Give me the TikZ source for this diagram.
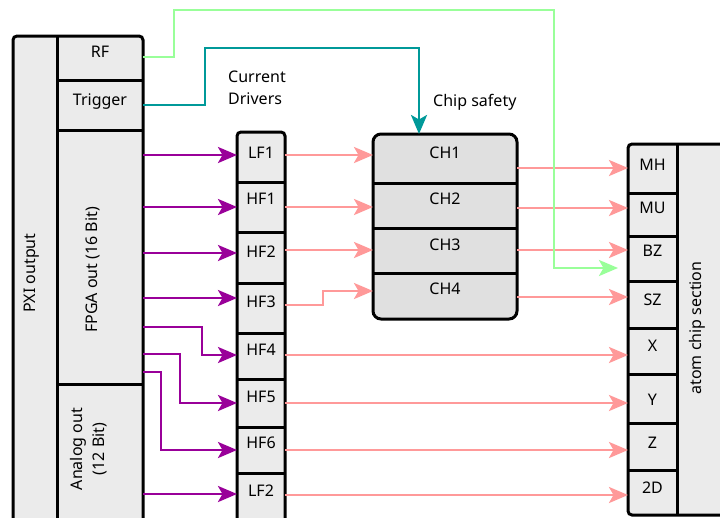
\documentclass[tikz,border=0pt]{standalone}
\usepackage{fontspec}
\setmainfont{Noto Sans}
\usetikzlibrary{arrows.meta,backgrounds}
\definecolor{cfill}{HTML}{EBEBEB}
\definecolor{csafe}{HTML}{E0E0E0}
\definecolor{cpurple}{HTML}{990099}
\definecolor{cpink}{HTML}{FF9999}
\definecolor{cgreen}{HTML}{99FF99}
\definecolor{cteal}{HTML}{009999}
\newcommand\dfont{\fontsize{16}{22}\selectfont}
% name, x1, y1, x2, y2, label y, text
\newcommand\mkcell[7]{%
  \node[cell, minimum width={(#4-#2)*1pt}, minimum height={(#5-#3)*1pt}, anchor=north west,
    label={[celllbl, yshift={((#3+#5)/2-#6)*1pt}]center:#7}] (#1) at (#2,#3) {};}
\newcommand\mkbox[5]{%
  \node[cell, minimum width={(#4-#2)*1pt}, minimum height={(#5-#3)*1pt}, anchor=north west] (#1) at (#2,#3) {};}
\begin{document}
\begin{tikzpicture}[x=1pt,y=-1pt,
  cell/.style={draw=none, inner sep=0pt, outer sep=0pt},
  celllbl/.style={font=\dfont, inner sep=0pt, text height=11.5pt, text depth=0pt},
  rlbl/.style={font=\dfont, rotate=90, inner sep=0pt},
  frame/.style={draw=black, line width=3pt, rounded corners=4pt},
  divider/.style={draw=black, line width=3pt},
  conn/.style={line width=2.8pt, -{Stealth[length=19pt,width=16pt,inset=4.5pt]}},
  pconn/.style={conn, draw=cpurple},
  rconn/.style={conn, draw=cpink},
]
\useasboundingbox (0,0) rectangle (720,517);
\clip (0,0) rectangle (720,517);

% PXI output
\mkbox{pxi}{13}{36}{57}{540}
\mkcell{rf}{57}{36}{143}{80}{52}{RF}
\mkcell{trig}{57}{80}{143}{130}{100}{Trigger}
\mkbox{fpga}{57}{130}{143}{384}
\mkbox{analog}{57}{384}{143}{540}

% Current drivers
\mkcell{lf1}{237}{132}{285}{182}{153}{LF1}
\mkcell{hf1}{237}{182}{285}{232}{199}{HF1}
\mkcell{hf2}{237}{232}{285}{283}{252}{HF2}
\mkcell{hf3}{237}{283}{285}{333}{302}{HF3}
\mkcell{hf4}{237}{333}{285}{379}{350}{HF4}
\mkcell{hf5}{237}{379}{285}{427}{397}{HF5}
\mkcell{hf6}{237}{427}{285}{473}{443}{HF6}
\mkcell{lf2}{237}{473}{285}{540}{491}{LF2}

% Chip safety
\mkcell{ch1}{373}{134}{517}{183}{153}{CH1}
\mkcell{ch2}{373}{183}{517}{228}{199}{CH2}
\mkcell{ch3}{373}{228}{517}{273}{245}{CH3}
\mkcell{ch4}{373}{273}{517}{319}{289}{CH4}

% Atom chip section
\mkcell{mh}{628}{144}{677}{193}{165}{MH}
\mkcell{mu}{628}{193}{677}{236}{208}{MU}
\mkcell{bz}{628}{236}{677}{281}{251}{BZ}
\mkcell{sz}{628}{281}{677}{328}{300}{SZ}
\mkcell{acx}{628}{328}{677}{374}{346}{X}
\mkcell{acy}{628}{374}{677}{423}{400}{Y}
\mkcell{acz}{628}{423}{677}{470}{443}{Z}
\mkcell{acd}{628}{470}{677}{515}{488}{2D}
\mkbox{atomcol}{677}{144}{730}{515}

% frames with fill
\begin{scope}[on background layer]
  \draw[frame, fill=cfill] (pxi.north west) rectangle (analog.south east);
  \draw[frame, fill=cfill] (lf1.north west) rectangle (lf2.south east);
  \draw[frame, fill=csafe, rounded corners=8pt] (ch1.north west) rectangle (ch4.south east);
  \draw[frame, fill=cfill] (mh.north west) rectangle (atomcol.south east);
\end{scope}

% dividers
\draw[divider] (pxi.north east) -- (pxi.south east);
\foreach \n in {rf,trig,fpga} \draw[divider] (\n.south west) -- (\n.south east);
\foreach \n in {lf1,hf1,hf2,hf3,hf4,hf5,hf6} \draw[divider] (\n.south west) -- (\n.south east);
\foreach \n in {ch1,ch2,ch3} \draw[divider] (\n.south west) -- (\n.south east);
\draw[divider] (mh.north east) -- (acd.south east);
\foreach \n in {mh,mu,bz,sz,acx,acy,acz} \draw[divider] (\n.south west) -- (\n.south east);

% rotated labels
\node[rlbl] (pxilbl) at (32,273) {PXI output};
\node[rlbl] (fpgalbl) at (93,270) {FPGA out (16 Bit)};
\node[rlbl, align=center] (anlbl) at (89,449) {Analog out\\(12 Bit)};
\node[rlbl] (atomlbl) at (697,328) {atom chip section};

% free labels
\node[font=\dfont, anchor=west, align=left, inner sep=0pt] (drvlbl) at (228,88) {Current\\Drivers};
\node[font=\dfont, anchor=west, inner sep=0pt] (safelbl) at (433,102) {Chip safety};

% purple connectors
\draw[pconn] (fpga.east |- 0,155) -- (lf1.west |- 0,155);
\draw[pconn] (fpga.east |- 0,207) -- (hf1.west |- 0,207);
\draw[pconn] (fpga.east |- 0,253) -- (hf2.west |- 0,253);
\draw[pconn] (fpga.east |- 0,298) -- (hf3.west |- 0,298);
\draw[pconn] (fpga.east |- 0,327) -| (202,355) -- (hf4.west |- 0,355);
\draw[pconn] (fpga.east |- 0,354) -| (180,403) -- (hf5.west |- 0,403);
\draw[pconn] (fpga.east |- 0,372) -| (161,450) -- (hf6.west |- 0,450);
\draw[pconn] (analog.east |- 0,494) -- (lf2.west |- 0,494);

% pink connectors
\draw[rconn] (lf1.east |- 0,155) -- (ch1.west |- 0,155);
\draw[rconn] (hf1.east |- 0,207) -- (ch2.west |- 0,207);
\draw[rconn] (hf2.east |- 0,250) -- (ch3.west |- 0,250);
\draw[rconn] (hf3.east |- 0,305) -| (323,291) -- (ch4.west |- 0,291);
\draw[rconn] (hf4.east |- 0,355) -- (acx.west |- 0,355);
\draw[rconn] (hf5.east |- 0,403) -- (acy.west |- 0,403);
\draw[rconn] (hf6.east |- 0,450) -- (acz.west |- 0,450);
\draw[rconn] (lf2.east |- 0,495) -- (acd.west |- 0,495);
\draw[rconn] (ch1.east |- 0,168) -- (mh.west |- 0,168);
\draw[rconn] (ch2.east |- 0,208) -- (mu.west |- 0,208);
\draw[rconn] (ch3.east |- 0,250) -- (bz.west |- 0,250);
\draw[rconn] (ch4.east |- 0,297) -- (sz.west |- 0,297);

% RF (green) and Trigger (teal)
\coordinate (gend) at (618,268);
\draw[conn, draw=cgreen] (rf.east |- 0,57) -| (174,10) -| (gend -| 554,0) -- (gend);
\draw[conn, draw=cteal] (trig.east |- 0,105) -| (205,48) -| (ch1.north -| 419,0);
\end{tikzpicture}
\end{document}
